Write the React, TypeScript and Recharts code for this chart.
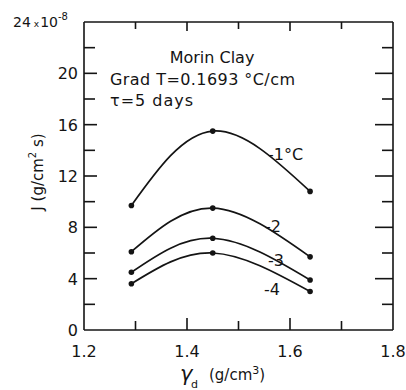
import { LineChart, Line, XAxis, YAxis } from "recharts";

// dry density (g/cm3) of the three specimens
const densities = [1.292, 1.45, 1.639];
// water flux J (x10^-8 g/cm2 s) per cold-side temperature
const fluxMinus1 = [9.7, 15.5, 10.8];
const fluxMinus2 = [6.1, 9.5, 5.7];
const fluxMinus3 = [4.5, 7.15, 3.9];
const fluxMinus4 = [3.6, 6.0, 3.0];
const curveNames = ["-1°C", "-2", "-3", "-4"];

const xLabels = [1.2, 1.4, 1.6, 1.8];
const xInnerTicks = [1.3, 1.4, 1.5, 1.6, 1.7];
const yLabels = [0, 4, 8, 12, 16, 20, 24];
const yInnerTicks = [2, 4, 6, 8, 10, 12, 14, 16, 18, 20, 22];

const table = densities.map((d, i) => ({
  d,
  j1: fluxMinus1[i],
  j2: fluxMinus2[i],
  j3: fluxMinus3[i],
  j4: fluxMinus4[i],
}));

const INK = "#141414";
const FONT = "'DejaVu Sans', Verdana, sans-serif";
const X_DOMAIN: [number, number] = [1.2, 1.8];
const Y_DOMAIN: [number, number] = [0, 24];
const frame = { stroke: INK, strokeWidth: 1.6 };

// plot box that follows from the chart margins and axis sizes below
const W = 406;
const H = 390;
const MARGIN = { top: 21, right: 12, bottom: 0, left: 20 };
const BOX = { left: 84, right: 393, top: 22, bottom: 330 };
const sx = (v: number) => BOX.left + ((v - X_DOMAIN[0]) / (X_DOMAIN[1] - X_DOMAIN[0])) * (BOX.right - BOX.left);
const sy = (v: number) => BOX.bottom - ((v - Y_DOMAIN[0]) / (Y_DOMAIN[1] - Y_DOMAIN[0])) * (BOX.bottom - BOX.top);

const BottomLabel = (props: any) => {
  const { x, y, payload } = props;
  return (
    <text x={x} y={y + 7} textAnchor="middle" fontSize={16} fill={INK} fontFamily={FONT}>
      {payload.value.toFixed(1)}
    </text>
  );
};

const LeftLabel = (props: any) => {
  const { x, y, payload } = props;
  const v = payload.value;
  if (v === 24) {
    return (
      <g fill={INK} fontFamily={FONT}>
        <text x={13} y={y + 5} fontSize={14}>
          24
          <tspan fontSize={9} dx={3}>x</tspan>
          <tspan dx={1}>10</tspan>
        </text>
        <text x={58} y={y - 2} fontSize={10}>
          -8
        </text>
      </g>
    );
  }
  return (
    <text x={x} y={y + 6} textAnchor="end" fontSize={16} fill={INK} fontFamily={FONT}>
      {v}
    </text>
  );
};

// inward tick marks on all four sides; labelled values get the longer mark
const InnerTicks = () => (
  <g stroke={INK} strokeWidth={1.6}>
    {xInnerTicks.map((v) => {
      const major = v === 1.4 || v === 1.6;
      return (
        <g key={`x${v}`}>
          <line x1={sx(v)} x2={sx(v)} y1={BOX.bottom} y2={BOX.bottom - (major ? 12 : 9)} />
          <line x1={sx(v)} x2={sx(v)} y1={BOX.top} y2={BOX.top + (major ? 9 : 7)} />
        </g>
      );
    })}
    {yInnerTicks.map((v) => {
      const major = yLabels.includes(v);
      return (
        <g key={`y${v}`}>
          <line x1={BOX.left} x2={BOX.left + (major ? 13 : 11)} y1={sy(v)} y2={sy(v)} />
          <line x1={BOX.right} x2={BOX.right - (major ? 18 : 11)} y1={sy(v)} y2={sy(v)} />
        </g>
      );
    })}
  </g>
);

export default function App() {
  return (
    <div style={{ position: "absolute", left: 0, top: 0, width: W, height: H, background: "#fff" }}>
      <LineChart width={W} height={H} data={table} margin={MARGIN}>
        <XAxis
          type="number"
          dataKey="d"
          domain={X_DOMAIN}
          allowDataOverflow
          ticks={xLabels}
          interval={0}
          height={60}
          tickLine={false}
          tickSize={0}
          tickMargin={20}
          axisLine={frame}
          tick={<BottomLabel />}
        />
        <YAxis
          type="number"
          domain={Y_DOMAIN}
          allowDataOverflow
          ticks={yLabels}
          interval={0}
          width={64}
          tickLine={false}
          tickSize={0}
          tickMargin={6}
          axisLine={frame}
          tick={<LeftLabel />}
        />
        <XAxis
          xAxisId="top"
          orientation="top"
          type="number"
          dataKey="d"
          domain={X_DOMAIN}
          allowDataOverflow
          height={1}
          tickLine={false}
          axisLine={frame}
          tick={false}
        />
        <YAxis
          yAxisId="right"
          orientation="right"
          type="number"
          domain={Y_DOMAIN}
          allowDataOverflow
          width={1}
          tickLine={false}
          axisLine={frame}
          tick={false}
        />

        {["j1", "j2", "j3", "j4"].map((key, i) => (
          <Line
            key={key}
            name={curveNames[i]}
            dataKey={key}
            xAxisId={i < 2 ? 0 : "top"}
            yAxisId={i < 2 ? 0 : "right"}
            type="natural"
            stroke={INK}
            strokeWidth={1.7}
            dot={{ r: 2.8, fill: INK, stroke: "none" }}
            isAnimationActive={false}
          />
        ))}
      </LineChart>

      <svg
        width={W}
        height={H}
        style={{ position: "absolute", left: 0, top: 0, pointerEvents: "none" }}
        fontFamily={FONT}
        fill={INK}
      >
        <InnerTicks />

        <text x={212} y={63} fontSize={16} textAnchor="middle">Morin Clay</text>
        <text x={110} y={85} fontSize={16} textLength={185}>Grad T=0.1693 °C/cm</text>
        <text x={110} y={106} fontSize={16} textLength={83}>τ=5 days</text>

        <text x={268} y={160} fontSize={16}>{curveNames[0]}</text>
        <text x={265} y={232} fontSize={16}>{curveNames[1]}</text>
        <text x={268} y={266} fontSize={16}>{curveNames[2]}</text>
        <text x={264} y={295} fontSize={16}>{curveNames[3]}</text>

        <text x={38} y={172} fontSize={15} textAnchor="middle" dominantBaseline="central" transform="rotate(-90 38 172)">
          J (g/cm<tspan dy={-6} fontSize={10}>2</tspan><tspan dy={6}> s)</tspan>
        </text>

        <text x={180} y={381} fontSize={21} fontStyle="italic">γ</text>
        <text x={191} y={388} fontSize={11}>d</text>
        <text x={209} y={380} fontSize={15}>(g/cm<tspan dy={-6} fontSize={11}>3</tspan><tspan dy={6}>)</tspan></text>
      </svg>
    </div>
  );
}
